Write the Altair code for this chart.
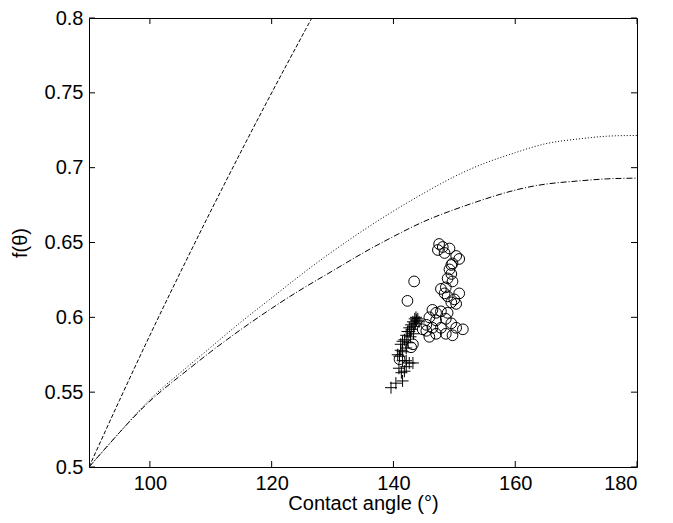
import altair as alt
import pandas as pd

# ---------------- data ----------------
x_ticks = [100, 120, 140, 160, 180]
y_ticks = [0.5, 0.55, 0.6, 0.65, 0.7, 0.75, 0.8]

# steep dashed curve
dash_x = [90, 95, 100, 105, 110, 115, 120, 125, 126.6]
dash_y = [0.5, 0.5445, 0.588, 0.630, 0.671, 0.711, 0.750, 0.788, 0.8]

# dotted curve (upper of the two flat curves)
dot_x = [90, 95, 100, 105, 110, 115, 120, 125, 130, 135, 140, 145, 150, 155, 160, 165, 170, 175, 180]
dot_y = [0.5, 0.523, 0.545, 0.563, 0.580, 0.597, 0.613, 0.629, 0.644, 0.658, 0.671, 0.683, 0.694, 0.703, 0.710, 0.716, 0.719, 0.721, 0.7215]

# dash-dot curve (lower of the two flat curves)
dd_x = [90, 95, 100, 105, 110, 115, 120, 125, 130, 135, 140, 145, 150, 155, 160, 165, 170, 175, 180]
dd_y = [0.5, 0.523, 0.544, 0.561, 0.577, 0.592, 0.606, 0.619, 0.631, 0.643, 0.654, 0.664, 0.672, 0.679, 0.685, 0.689, 0.691, 0.6925, 0.693]

# circles
circ_x = [147.5, 148.1, 147.3, 148.4, 149.2, 150.3, 150.8, 149.7, 149.2, 149.5, 149.5, 148.9, 149.7,
          148.6, 147.8, 148.4, 150.8, 150.0, 149.5, 148.9, 150.3,
          146.4, 147.0, 147.8, 148.9, 145.9, 147.0, 148.6, 149.5, 145.4, 146.4, 147.8, 150.3, 151.4,
          145.4, 147.0, 148.6, 149.7, 145.9, 144.8, 143.4, 142.3, 142.9, 141.0, 143.2]
circ_y = [0.649, 0.647, 0.645, 0.643, 0.646, 0.641, 0.639, 0.636, 0.632, 0.635, 0.629, 0.626, 0.624,
          0.620, 0.619, 0.616, 0.616, 0.612, 0.610, 0.614, 0.609,
          0.605, 0.603, 0.604, 0.603, 0.600, 0.598, 0.599, 0.596, 0.595, 0.593, 0.593, 0.593, 0.592,
          0.591, 0.589, 0.589, 0.588, 0.587, 0.592, 0.624, 0.611, 0.580, 0.572, 0.582]

# plus markers
plus_x = [139.6, 140.4, 141.5, 141.8, 142.1, 142.6, 143.2, 141.5, 141.0, 140.7, 141.5, 142.1, 141.2,
          141.8, 142.1, 142.3, 142.6, 142.9, 143.2, 143.5, 143.7, 142.6, 141.5, 141.2, 142.1, 143.0,
          143.4, 143.8, 144.0, 143.3, 142.8, 144.2, 143.6, 142.4, 140.9, 141.3]
plus_y = [0.553, 0.556, 0.5575, 0.564, 0.567, 0.5695, 0.5695, 0.571, 0.574, 0.575, 0.577, 0.5795, 0.582,
          0.585, 0.588, 0.5905, 0.593, 0.595, 0.597, 0.599, 0.600, 0.5905, 0.584, 0.578, 0.571, 0.592,
          0.594, 0.598, 0.599, 0.589, 0.587, 0.597, 0.596, 0.583, 0.566, 0.563]

# ---------------- chart ----------------
W, H = 548, 449
FONT = "Liberation Sans"

xs = alt.Scale(domain=[90, 180], nice=False, zero=False)
ys = alt.Scale(domain=[0.5, 0.8], nice=False, zero=False)

xax = alt.Axis(values=x_ticks, ticks=False, tickSize=0, domain=False, grid=False,
               labelFont=FONT, labelFontSize=20, labelColor="black", labelPadding=6,
               title="Contact angle (°)", titleFont=FONT, titleFontSize=20,
               titleFontWeight="normal", titleColor="black", titlePadding=0)
yax = alt.Axis(values=y_ticks, format=".2~f", ticks=False, tickSize=0, domain=False, grid=False,
               labelFont=FONT, labelFontSize=20, labelColor="black", labelPadding=6,
               title="f(θ)", titleFont=FONT, titleFontSize=20,
               titleFontWeight="normal", titleColor="black", titlePadding=14)

X = lambda: alt.X("x:Q", scale=xs, axis=xax)
Y = lambda: alt.Y("y:Q", scale=ys, axis=yax)

def line(xv, yv, dash):
    df = pd.DataFrame({"x": xv, "y": yv})
    return alt.Chart(df).mark_line(color="black", strokeWidth=1, strokeDash=dash,
                                   interpolate="natural", clip=True).encode(x=X(), y=Y())

l_dash = line(dash_x, dash_y, [4, 2])
l_dot = line(dot_x, dot_y, [1, 2])
l_dd = line(dd_x, dd_y, [6, 2, 1, 2])

circ = alt.Chart(pd.DataFrame({"x": circ_x, "y": circ_y})).mark_point(
    shape="circle", size=115, filled=False, color="black", strokeWidth=1, opacity=1
).encode(x=X(), y=Y())

plus = alt.Chart(pd.DataFrame({"x": plus_x, "y": plus_y})).mark_point(
    shape="M-1,0L1,0M0,-1L0,1", size=144, filled=False, color="black", strokeWidth=1, opacity=1
).encode(x=X(), y=Y())

xt = pd.DataFrame({"x": x_ticks})
yt = pd.DataFrame({"y": y_ticks})
tick_top = alt.Chart(xt).mark_rule(color="black").encode(x=X(), y=alt.value(0), y2=alt.value(6))
tick_bot = alt.Chart(xt).mark_rule(color="black").encode(x=X(), y=alt.value(H - 6), y2=alt.value(H))
tick_left = alt.Chart(yt).mark_rule(color="black").encode(y=Y(), x=alt.value(0), x2=alt.value(6))
tick_right = alt.Chart(yt).mark_rule(color="black").encode(y=Y(), x=alt.value(W - 6), x2=alt.value(W))

chart = alt.layer(
    l_dash, l_dot, l_dd, circ, plus, tick_top, tick_bot, tick_left, tick_right
).properties(
    width=W, height=H,
    autosize=alt.AutoSizeParams(type="none"),
    padding={"left": 81, "top": 10, "right": 28, "bottom": 48},
    background="white",
).configure_view(stroke="black", strokeWidth=1)

chart.save("out.html", embed_options={"renderer": "svg", "actions": False})
